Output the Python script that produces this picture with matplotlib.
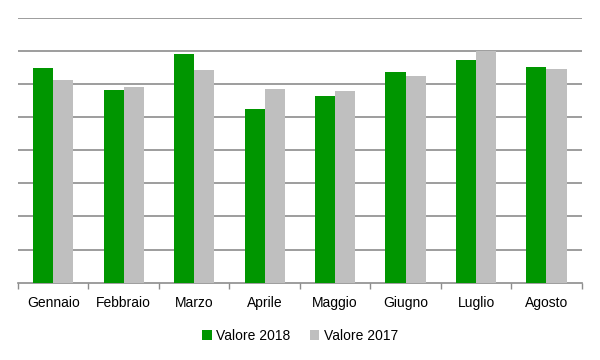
import matplotlib.pyplot as plt
import numpy as np

mesi = ['Gennaio', 'Febbraio', 'Marzo', 'Aprile', 'Maggio', 'Giugno', 'Luglio', 'Agosto']
valore_2018 = [6.49, 5.82, 6.92, 5.24, 5.64, 6.37, 6.73, 6.52]
valore_2017 = [6.13, 5.92, 6.42, 5.86, 5.80, 6.25, 7.01, 6.46]

plt.rcParams['font.family'] = ['Liberation Sans', 'DejaVu Sans']

fig = plt.figure(figsize=(6, 3.6), dpi=100)
ax = fig.add_axes([0.03, 0.215, 0.9395, 0.735])

x = np.arange(len(mesi))
w = 0.285
ax.bar(x - w / 2, valore_2018, w, label='Valore 2018', color='#009600', zorder=3)
ax.bar(x + w / 2, valore_2017, w, label='Valore 2017', color='#bfbfbf', zorder=3)

ax.set_xlim(-0.5, len(mesi) - 0.5)
ax.set_ylim(0, 8)
ax.set_yticks(np.arange(1, 9))
ax.yaxis.grid(True, color='#8c8c8c', linewidth=1.2, zorder=0)
ax.tick_params(axis='y', left=False, labelleft=False)

ax.set_xticks(x)
ax.set_xticklabels(mesi, fontsize=10)
ax.set_xticks(np.arange(-0.5, len(mesi)), minor=True)
ax.tick_params(axis='x', which='major', length=0, pad=10)
ax.tick_params(axis='x', which='minor', length=4, color='#8c8c8c', width=1)

for s in ['top', 'right', 'left']:
    ax.spines[s].set_visible(False)
ax.spines['bottom'].set_color('#8c8c8c')
ax.spines['bottom'].set_linewidth(1.2)

fig.legend(loc='center', bbox_to_anchor=(0.5, 0.067), ncol=2, frameon=False,
           fontsize=10, handlelength=0.7, handleheight=0.7, handletextpad=0.3,
           columnspacing=1.4)

fig.savefig('out.png', dpi=100)
